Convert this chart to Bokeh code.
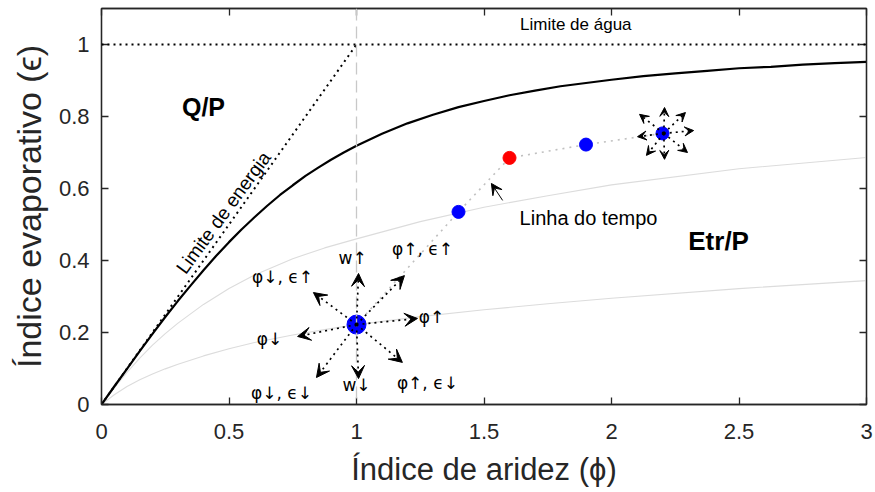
from bokeh.plotting import figure
from bokeh.models import (ColumnDataSource, Arrow, VeeHead, Span, LinearAxis,
                          FixedTicker, Range1d)
from bokeh.embed import file_html
from bokeh.resources import INLINE
from bokeh.core.properties import value

# ---------------- data ----------------
x_ticks = [0, 0.5, 1, 1.5, 2, 2.5, 3]
x_tick_labels = ["0", "0.5", "1", "1.5", "2", "2.5", "3"]
y_ticks = [0, 0.2, 0.4, 0.6, 0.8, 1.0]
y_tick_labels = ["0", "0.2", "0.4", "0.6", "0.8", "1"]

# Budyko-type curve (solid black)
curve_phi = [0, 0.05, 0.1, 0.15, 0.2, 0.25, 0.3, 0.35, 0.4, 0.45, 0.5, 0.55, 0.6,
             0.65, 0.7, 0.75, 0.8, 0.85, 0.9, 0.95, 1.0, 1.1, 1.2, 1.3, 1.4, 1.5,
             1.6, 1.7, 1.8, 1.9, 2.0, 2.125, 2.25, 2.375, 2.5, 2.625, 2.75, 2.875, 3.0]
curve_eps = [0, 0.050, 0.099, 0.148, 0.196, 0.243, 0.288, 0.331, 0.373, 0.413,
             0.451, 0.487, 0.520, 0.552, 0.582, 0.609, 0.635, 0.658, 0.680, 0.700,
             0.719, 0.752, 0.781, 0.805, 0.826, 0.843, 0.859, 0.872, 0.884, 0.893,
             0.902, 0.912, 0.920, 0.927, 0.934, 0.938, 0.944, 0.948, 0.952]

# light grey curves
grey_phi = [0, 0.05, 0.1, 0.15, 0.2, 0.25, 0.3, 0.4, 0.5, 0.6, 0.75, 0.875, 1.0,
            1.25, 1.5, 1.75, 2.0, 2.5, 3.0]
grey_upper_eps = [0, 0.046, 0.089, 0.129, 0.165, 0.197, 0.226, 0.278, 0.322, 0.36,
                  0.405, 0.435, 0.46, 0.508, 0.548, 0.58, 0.61, 0.655, 0.686]
grey_lower_eps = [0, 0.027, 0.05, 0.069, 0.085, 0.099, 0.112, 0.135, 0.155, 0.172,
                  0.193, 0.208, 0.222, 0.244, 0.263, 0.28, 0.295, 0.322, 0.344]

# limits
energy_phi = [0, 1.0]
energy_eps = [0, 1.0]
water_limit = 1.0
aridity_one = 1.0

# time line points
time_phi = [1.0, 1.4, 1.6, 1.9, 2.2]
time_eps = [0.222, 0.535, 0.685, 0.722, 0.753]
time_colors = ["#0000FF", "#0000FF", "#FF0000", "#0000FF", "#0000FF"]
time_sizes = [19, 13, 13, 13, 13]

# big star of arrows around (1, 0.222)
star1_x0 = 1.0
star1_y0 = 0.222
star1_tip_x = [1.008, 1.188, 1.239, 1.180, 1.008, 0.843, 0.769, 0.831]
star1_tip_y = [0.364, 0.358, 0.239, 0.117, 0.072, 0.075, 0.189, 0.311]

# small star of arrows around (2.2, 0.753)
star2_x0 = 2.205
star2_y0 = 0.753
star2_tip_x = [2.208, 2.290, 2.322, 2.298, 2.208, 2.137, 2.102, 2.110]
star2_tip_y = [0.825, 0.811, 0.761, 0.700, 0.681, 0.692, 0.744, 0.806]

# labels around the big star
star_label_x = [0.710, 0.985, 1.259, 1.294, 0.659, 1.278, 1.0, 0.706]
star_label_y = [0.353, 0.406, 0.433, 0.242, 0.183, 0.061, 0.053, 0.033]
star_labels = ["φ↓, ϵ↑", "w↑", "φ↑, ϵ↑", "φ↑", "φ↓", "φ↑, ϵ↓", "w↓", "φ↓, ϵ↓"]

# "Linha do tempo" pointer
pointer_tail = (1.573, 0.567)
pointer_tip = (1.529, 0.614)

# ---------------- figure ----------------
AX = "#262626"
p = figure(width=875, height=492, x_range=Range1d(0, 3), y_range=Range1d(0, 1.1),
           output_backend="svg", toolbar_location=None,
           min_border_left=101, min_border_right=9, min_border_top=8,
           min_border_bottom=88)
p.grid.visible = False
p.outline_line_color = AX
p.outline_line_width = 1.3
p.background_fill_color = "white"
p.border_fill_color = "white"

for ax, ticks, labels in ((p.xaxis[0], x_ticks, x_tick_labels),
                          (p.yaxis[0], y_ticks, y_tick_labels)):
    ax.ticker = FixedTicker(ticks=ticks)
    ax.major_label_overrides = {t: l for t, l in zip(ticks, labels)}
    ax.major_tick_in = 7
    ax.major_tick_out = 0
    ax.minor_tick_line_color = None
    ax.axis_line_color = AX
    ax.axis_line_width = 1.3
    ax.major_tick_line_color = AX
    ax.major_tick_line_width = 1.3
    ax.major_label_text_font = "Liberation Sans"
    ax.major_label_text_font_size = "22px"
    ax.major_label_text_color = AX
    ax.axis_label_text_font = "Liberation Sans"
    ax.axis_label_text_font_style = "normal"
    ax.axis_label_text_color = AX

p.xaxis.axis_label = "Índice de aridez (ϕ)"
p.yaxis.axis_label = "Índice evaporativo (ϵ)"
p.xaxis.axis_label_text_font_size = "31px"
p.yaxis.axis_label_text_font_size = "34px"
p.xaxis.major_label_standoff = 19
p.yaxis.major_label_standoff = 12
p.xaxis.axis_label_standoff = 10
p.yaxis.axis_label_standoff = 8

for loc, ticks in (("above", x_ticks), ("right", y_ticks)):
    a = LinearAxis(ticker=FixedTicker(ticks=ticks), major_tick_in=7, major_tick_out=0,
                   minor_tick_line_color=None, axis_line_color=AX, axis_line_width=1.3,
                   major_tick_line_color=AX, major_tick_line_width=1.3,
                   major_label_text_font_size="0px", major_label_text_color=None,
                   major_label_standoff=0)
    p.add_layout(a, loc)

# grey curves
p.line(grey_phi, grey_upper_eps, line_color="#DCDCDC", line_width=1.1)
p.line(grey_phi, grey_lower_eps, line_color="#DCDCDC", line_width=1.1)

# phi = 1 dashed line
p.add_layout(Span(location=aridity_one, dimension="height", line_color="#C8C8C8",
                  line_width=1.3, line_dash="12 6"))

# limits
p.add_layout(Span(location=water_limit, dimension="width", line_color="black",
                  line_width=2, line_dash="2 4"))
p.line(energy_phi, energy_eps, line_color="black", line_width=2, line_dash="2 4")

# main curve
p.line(curve_phi, curve_eps, line_color="black", line_width=2.2)

# time line
p.line(time_phi, time_eps, line_color="#C0C0C0", line_width=1.6, line_dash="2 5")
p.scatter(time_phi, time_eps, size=time_sizes, fill_color=time_colors,
          line_color=time_colors)

# arrows
def star(x0, y0, tx, ty, head):
    src = ColumnDataSource(dict(x0=[x0] * len(tx), y0=[y0] * len(ty), x1=tx, y1=ty))
    p.add_layout(Arrow(source=src, x_start="x0", y_start="y0", x_end="x1", y_end="y1",
                       line_color="black", line_width=1.7, line_dash="2 4",
                       end=VeeHead(size=head, fill_color="black", line_color="black",
                                   line_width=1)))

star(star1_x0, star1_y0, star1_tip_x, star1_tip_y, 13)
star(star2_x0, star2_y0, star2_tip_x, star2_tip_y, 9)

p.add_layout(Arrow(x_start=pointer_tail[0], y_start=pointer_tail[1],
                   x_end=pointer_tip[0], y_end=pointer_tip[1],
                   line_color="black", line_width=1,
                   end=VeeHead(size=11, fill_color="black", line_color="black",
                               line_width=1)))

# texts
p.text(star_label_x, star_label_y, text=star_labels, text_font=value("DejaVu Sans"),
       text_font_size="17px", text_align="center", text_baseline="middle",
       text_color="black")

p.text([0.40], [0.827], text=["Q/P"], text_font=value("Liberation Sans"),
       text_font_size="25px", text_font_style="bold", text_align="center",
       text_baseline="middle")
p.text([2.42], [0.455], text=["Etr/P"], text_font=value("Liberation Sans"),
       text_font_size="26px", text_font_style="bold", text_align="center",
       text_baseline="middle")
p.text([1.86], [1.03], text=["Limite de água"], text_font=value("Liberation Sans"),
       text_font_size="17px", text_align="center", text_baseline="bottom")
p.text([1.91], [0.517], text=["Linha do tempo"], text_font=value("Liberation Sans"),
       text_font_size="20px", text_align="center", text_baseline="middle")
p.text([0.478], [0.533], text=["Limite de energia"], text_font=value("Liberation Sans"),
       text_font_size="19px", text_align="center", text_baseline="middle",
       angle=0.94)

open("out.html", "w").write(file_html(p, INLINE))
